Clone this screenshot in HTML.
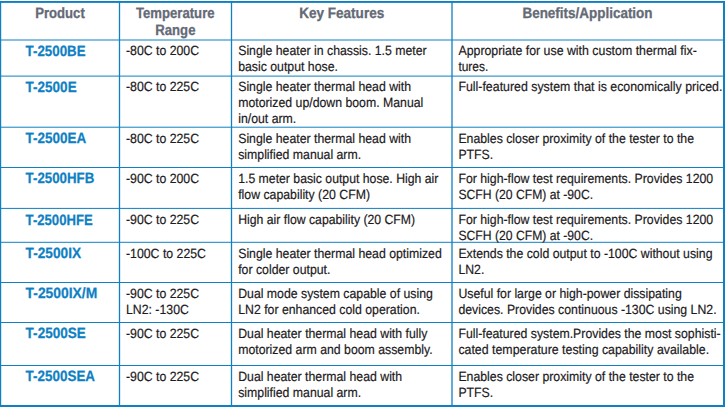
<!DOCTYPE html>
<html lang="en"><head><meta charset="utf-8"><title>T-2500 product table</title>
<style>
html,body{margin:0;padding:0;background:#fff;}
body{width:726px;height:407px;overflow:hidden;}
svg{display:block;font-family:"Liberation Sans",sans-serif;text-rendering:geometricPrecision;}
.h{font-weight:bold;fill:#646a76;stroke:#646a76;stroke-width:0.3;}
.p{font-weight:bold;fill:#0e7fc3;stroke:#0e7fc3;stroke-width:0.25;}
.d{fill:#1d1a22;stroke:#1d1a22;stroke-width:0.2;}
</style></head><body>
<svg width="726" height="407" viewBox="0 0 726 407">
<rect x="0" y="0" width="726" height="407" fill="#fff"/>

<g fill="#0f80c2">
<rect x="0" y="1" width="725" height="1.9"/>
<rect x="0" y="405" width="725" height="2"/>
<rect x="0" y="1" width="1.2" height="406"/>
<rect x="723" y="1" width="2" height="406"/>
<rect x="118.85" y="2" width="1.3" height="404"/>
<rect x="230.85" y="2" width="1.3" height="404"/>
<rect x="451.35" y="2" width="1.3" height="404"/>
<rect x="1" y="39.50" width="723" height="1"/>
<rect x="1" y="75.60" width="723" height="1"/>
<rect x="1" y="126.70" width="723" height="1"/>
<rect x="1" y="167.00" width="723" height="1"/>
<rect x="1" y="207.90" width="723" height="1"/>
<rect x="1" y="241.80" width="723" height="1"/>
<rect x="1" y="282.00" width="723" height="1"/>
<rect x="1" y="322.00" width="723" height="1"/>
<rect x="1" y="365.00" width="723" height="1"/>
</g>
<text class="h" x="35.21" y="17.80" font-size="15.0" textLength="49.59" lengthAdjust="spacingAndGlyphs">Product</text>
<text class="h" x="136.03" y="17.50" font-size="15.0" textLength="78.53" lengthAdjust="spacingAndGlyphs">Temperature</text>
<text class="h" x="155.34" y="34.50" font-size="15.0" textLength="40.11" lengthAdjust="spacingAndGlyphs">Range</text>
<text class="h" x="299.18" y="17.80" font-size="15.0" textLength="85.04" lengthAdjust="spacingAndGlyphs">Key Features</text>
<text class="h" x="522.46" y="17.80" font-size="15.0" textLength="130.09" lengthAdjust="spacingAndGlyphs">Benefits/Application</text>
<text class="p" x="25.60" y="56.00" font-size="14.9" textLength="59.95" lengthAdjust="spacingAndGlyphs">T-2500BE</text>
<text class="d" x="126.00" y="55.00" font-size="13.4" textLength="73.09" lengthAdjust="spacingAndGlyphs">-80C to 200C</text>
<text class="d" x="238.20" y="55.00" font-size="13.4" textLength="188.51" lengthAdjust="spacingAndGlyphs">Single heater in chassis. 1.5 meter</text>
<text class="d" x="238.20" y="71.00" font-size="13.4" textLength="99.74" lengthAdjust="spacingAndGlyphs">basic output hose.</text>
<text class="d" x="458.40" y="55.00" font-size="13.4" textLength="238.37" lengthAdjust="spacingAndGlyphs">Appropriate for use with custom thermal fix-</text>
<text class="d" x="458.40" y="71.00" font-size="13.4" textLength="29.93" lengthAdjust="spacingAndGlyphs">tures.</text>
<text class="p" x="25.60" y="92.00" font-size="14.9" textLength="51.05" lengthAdjust="spacingAndGlyphs">T-2500E</text>
<text class="d" x="126.00" y="91.00" font-size="13.4" textLength="73.09" lengthAdjust="spacingAndGlyphs">-80C to 225C</text>
<text class="d" x="238.20" y="91.00" font-size="13.4" textLength="172.82" lengthAdjust="spacingAndGlyphs">Single heater thermal head with</text>
<text class="d" x="238.20" y="107.00" font-size="13.4" textLength="185.10" lengthAdjust="spacingAndGlyphs">motorized up/down boom. Manual</text>
<text class="d" x="238.20" y="123.00" font-size="13.4" textLength="58.05" lengthAdjust="spacingAndGlyphs">in/out arm.</text>
<text class="d" x="458.40" y="91.00" font-size="13.4" textLength="263.94" lengthAdjust="spacingAndGlyphs">Full-featured system that is economically priced.</text>
<text class="p" x="25.60" y="143.00" font-size="14.9" textLength="60.75" lengthAdjust="spacingAndGlyphs">T-2500EA</text>
<text class="d" x="126.00" y="143.00" font-size="13.4" textLength="73.09" lengthAdjust="spacingAndGlyphs">-80C to 225C</text>
<text class="d" x="238.20" y="143.00" font-size="13.4" textLength="172.82" lengthAdjust="spacingAndGlyphs">Single heater thermal head with</text>
<text class="d" x="238.20" y="159.00" font-size="13.4" textLength="122.92" lengthAdjust="spacingAndGlyphs">simplified manual arm.</text>
<text class="d" x="458.40" y="143.00" font-size="13.4" textLength="235.63" lengthAdjust="spacingAndGlyphs">Enables closer proximity of the tester to the</text>
<text class="d" x="458.40" y="159.00" font-size="13.4" textLength="34.82" lengthAdjust="spacingAndGlyphs">PTFS.</text>
<text class="p" x="25.60" y="183.00" font-size="14.9" textLength="68.65" lengthAdjust="spacingAndGlyphs">T-2500HFB</text>
<text class="d" x="126.00" y="183.00" font-size="13.4" textLength="73.09" lengthAdjust="spacingAndGlyphs">-90C to 200C</text>
<text class="d" x="238.20" y="183.00" font-size="13.4" textLength="200.21" lengthAdjust="spacingAndGlyphs">1.5 meter basic output hose. High air</text>
<text class="d" x="238.20" y="199.00" font-size="13.4" textLength="131.79" lengthAdjust="spacingAndGlyphs">flow capability (20 CFM)</text>
<text class="d" x="458.40" y="183.00" font-size="13.4" textLength="254.75" lengthAdjust="spacingAndGlyphs">For high-flow test requirements. Provides 1200</text>
<text class="d" x="458.40" y="199.00" font-size="13.4" textLength="134.67" lengthAdjust="spacingAndGlyphs">SCFH (20 CFM) at -90C.</text>
<text class="p" x="25.60" y="225.00" font-size="14.9" textLength="67.15" lengthAdjust="spacingAndGlyphs">T-2500HFE</text>
<text class="d" x="126.00" y="224.00" font-size="13.4" textLength="73.09" lengthAdjust="spacingAndGlyphs">-90C to 225C</text>
<text class="d" x="238.20" y="224.00" font-size="13.4" textLength="176.94" lengthAdjust="spacingAndGlyphs">High air flow capability (20 CFM)</text>
<text class="d" x="458.40" y="224.00" font-size="13.4" textLength="254.75" lengthAdjust="spacingAndGlyphs">For high-flow test requirements. Provides 1200</text>
<text class="d" x="458.40" y="240.00" font-size="13.4" textLength="134.67" lengthAdjust="spacingAndGlyphs">SCFH (20 CFM) at -90C.</text>
<text class="p" x="25.60" y="258.00" font-size="14.9" textLength="55.45" lengthAdjust="spacingAndGlyphs">T-2500IX</text>
<text class="d" x="126.00" y="258.00" font-size="13.4" textLength="79.92" lengthAdjust="spacingAndGlyphs">-100C to 225C</text>
<text class="d" x="238.20" y="258.00" font-size="13.4" textLength="203.55" lengthAdjust="spacingAndGlyphs">Single heater thermal head optimized</text>
<text class="d" x="238.20" y="274.00" font-size="13.4" textLength="92.21" lengthAdjust="spacingAndGlyphs">for colder output.</text>
<text class="d" x="458.40" y="258.00" font-size="13.4" textLength="254.11" lengthAdjust="spacingAndGlyphs">Extends the cold output to -100C without using</text>
<text class="d" x="458.40" y="274.00" font-size="13.4" textLength="25.96" lengthAdjust="spacingAndGlyphs">LN2.</text>
<text class="p" x="25.60" y="298.00" font-size="14.9" textLength="71.65" lengthAdjust="spacingAndGlyphs">T-2500IX/M</text>
<text class="d" x="126.00" y="298.00" font-size="13.4" textLength="73.09" lengthAdjust="spacingAndGlyphs">-90C to 225C</text>
<text class="d" x="126.00" y="314.00" font-size="13.4" textLength="62.84" lengthAdjust="spacingAndGlyphs">LN2: -130C</text>
<text class="d" x="238.20" y="298.00" font-size="13.4" textLength="194.66" lengthAdjust="spacingAndGlyphs">Dual mode system capable of using</text>
<text class="d" x="238.20" y="314.00" font-size="13.4" textLength="181.71" lengthAdjust="spacingAndGlyphs">LN2 for enhanced cold operation.</text>
<text class="d" x="458.40" y="298.00" font-size="13.4" textLength="223.34" lengthAdjust="spacingAndGlyphs">Useful for large or high-power dissipating</text>
<text class="d" x="458.40" y="314.00" font-size="13.4" textLength="258.19" lengthAdjust="spacingAndGlyphs">devices. Provides continuous -130C using LN2.</text>
<text class="p" x="25.60" y="338.00" font-size="14.9" textLength="60.25" lengthAdjust="spacingAndGlyphs">T-2500SE</text>
<text class="d" x="126.00" y="338.00" font-size="13.4" textLength="73.09" lengthAdjust="spacingAndGlyphs">-90C to 225C</text>
<text class="d" x="238.20" y="338.00" font-size="13.4" textLength="189.20" lengthAdjust="spacingAndGlyphs">Dual heater thermal head with fully</text>
<text class="d" x="238.20" y="354.00" font-size="13.4" textLength="194.41" lengthAdjust="spacingAndGlyphs">motorized arm and boom assembly.</text>
<text class="d" x="458.40" y="338.00" font-size="13.4" textLength="262.24" lengthAdjust="spacingAndGlyphs">Full-featured system.Provides the most sophisti-</text>
<text class="d" x="458.40" y="354.00" font-size="13.4" textLength="250.72" lengthAdjust="spacingAndGlyphs">cated temperature testing capability available.</text>
<text class="p" x="25.60" y="381.00" font-size="14.9" textLength="69.45" lengthAdjust="spacingAndGlyphs">T-2500SEA</text>
<text class="d" x="126.00" y="381.00" font-size="13.4" textLength="73.09" lengthAdjust="spacingAndGlyphs">-90C to 225C</text>
<text class="d" x="238.20" y="381.00" font-size="13.4" textLength="163.93" lengthAdjust="spacingAndGlyphs">Dual heater thermal head with</text>
<text class="d" x="238.20" y="397.00" font-size="13.4" textLength="122.92" lengthAdjust="spacingAndGlyphs">simplified manual arm.</text>
<text class="d" x="458.40" y="381.00" font-size="13.4" textLength="235.63" lengthAdjust="spacingAndGlyphs">Enables closer proximity of the tester to the</text>
<text class="d" x="458.40" y="397.00" font-size="13.4" textLength="34.82" lengthAdjust="spacingAndGlyphs">PTFS.</text>
</svg>
</body></html>
